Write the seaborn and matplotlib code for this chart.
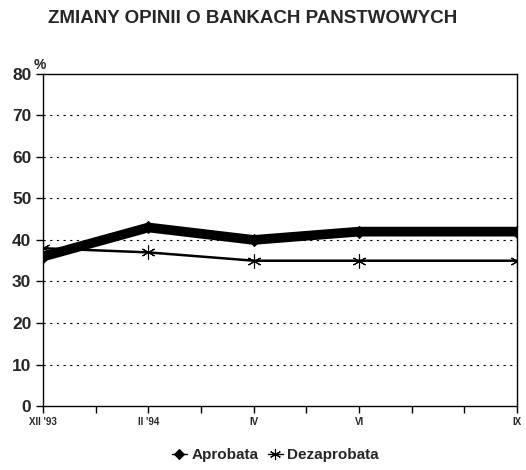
import matplotlib
matplotlib.use('Agg')
import matplotlib.pyplot as plt
import numpy as np
import pandas as pd
import seaborn as sns

sns.set_style('white')
plt.rcParams['font.family'] = ['Liberation Sans', 'DejaVu Sans']

# months since XII '93
months = [0, 2, 4, 6, 9]
month_labels = ["XII '93", "II '94", "IV", "VI", "IX"]
aprobata = [36, 43, 40, 42, 42]
dezaprobata = [38, 37, 35, 35, 35]

df = pd.DataFrame({'m': months, 'Aprobata': aprobata, 'Dezaprobata': dezaprobata})

fig = plt.figure(figsize=(5.26, 4.7), dpi=100)
ax = fig.add_axes([0.082, 0.136, 0.901, 0.707])

sns.lineplot(data=df, x='m', y='Aprobata', ax=ax, color='black', linewidth=7,
             marker='D', markersize=6, markeredgecolor='black', markerfacecolor='black',
             label='Aprobata')
sns.lineplot(data=df, x='m', y='Dezaprobata', ax=ax, color='black', linewidth=1.8,
             marker=(6, 2, 0), markersize=10, markeredgewidth=0.8,
             markeredgecolor='black', markerfacecolor='black', label='Dezaprobata')

ax.set_xlim(0, 9)
ax.set_ylim(0, 80)
ax.set_yticks(range(0, 81, 10))
ax.set_yticklabels([str(v) for v in range(0, 81, 10)], fontsize=12.5, fontweight='bold')
ax.set_xticks(range(10))
xl = [''] * 10
for m, l in zip(months, month_labels):
    xl[m] = l
ax.set_xticklabels(xl, fontsize=7, fontweight='bold')
ax.tick_params(axis='both', direction='out', length=5, width=1, color='black', bottom=True, left=True)
ax.tick_params(axis='x', pad=3)
ax.set_xlabel('')
ax.set_ylabel('')

for v in range(10, 80, 10):
    ax.axhline(v, color='black', linestyle=(0, (2, 4)), linewidth=0.8, zorder=0)

for s in ax.spines.values():
    s.set_color('black')
    s.set_linewidth(1)

ax.text(-0.02, 1.005, '%', transform=ax.transAxes, fontsize=10, fontweight='bold', va='bottom', ha='left')

fig.suptitle('ZMIANY OPINII O BANKACH PANSTWOWYCH', x=0.48, y=0.978, fontsize=13.5, fontweight='bold')

leg = ax.legend(loc='upper center', bbox_to_anchor=(0.49, -0.085), ncol=2, frameon=False,
                fontsize=11, handlelength=1.0, handletextpad=0.3, columnspacing=0.6)
for h in leg.legend_handles:
    h.set_linewidth(1)
    h.set_markersize(h.get_markersize() * 0.8)
for t in leg.get_texts():
    t.set_fontweight('bold')

fig.savefig('out.png', dpi=100)
